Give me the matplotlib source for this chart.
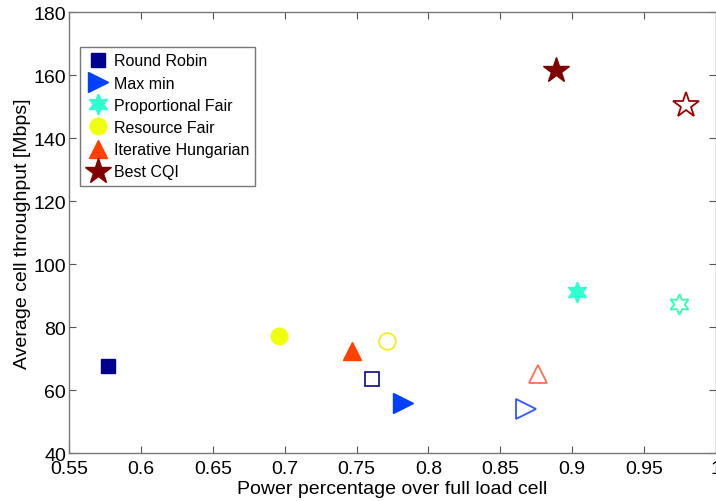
import matplotlib.pyplot as plt
import numpy as np

plt.rcParams['font.family'] = ['Liberation Sans', 'DejaVu Sans']

# scheduler results: (power fraction, throughput) for the two scenarios
schemes = ["Round Robin", "Max min", "Proportional Fair", "Resource Fair",
           "Iterative Hungarian", "Best CQI"]
power_a = [0.577, 0.782, 0.903, 0.696, 0.747, 0.889]
thr_a = [67.6, 55.9, 91.1, 77.2, 72.4, 161.8]
power_b = [0.761, 0.868, 0.974, 0.771, 0.876, 0.979]
thr_b = [63.5, 54.0, 87.3, 75.6, 65.1, 150.5]

colors = ["#00008f", "#0040ff", "#30ffd0", "#f0ff10", "#ff4000", "#800000"]
edge_b = ["#1a1a9a", "#3355ff", "#30ffb0", "#f0f020", "#ff7050", "#a00000"]
markers = ["s", ">", (6, 1, 0), "o", "^", "*"]
sizes = [10, 14, 15, 12, 13, 19]

fig = plt.figure(figsize=(7.16, 5.02), dpi=100)
ax = fig.add_axes([0.0964, 0.0956, 0.9036, 0.878])

for i in range(len(schemes)):
    ax.plot(power_a[i], thr_a[i], linestyle="none", marker=markers[i],
            markersize=sizes[i], color=colors[i], markeredgecolor=colors[i],
            label=schemes[i])
    ax.plot(power_b[i], thr_b[i], linestyle="none", marker=markers[i],
            markersize=sizes[i], markerfacecolor="white",
            markeredgecolor=edge_b[i], markeredgewidth=1.3)

ax.set_xlim(0.55, 1.0)
ax.set_ylim(40, 180)
ax.set_xticks(np.arange(0.55, 1.001, 0.05))
ax.set_xticklabels(["0.55", "0.6", "0.65", "0.7", "0.75", "0.8", "0.85",
                    "0.9", "0.95", "1"])
ax.set_yticks(np.arange(40, 181, 20))
ax.tick_params(direction="in", top=True, right=True, length=5,
               labelsize=14, color="#555555", pad=2)
ax.tick_params(axis="x", pad=5)
for s in ax.spines.values():
    s.set_color("#777777")
    s.set_linewidth(1.0)

ax.set_xlabel("Power percentage over full load cell", fontsize=14, labelpad=2)
ax.set_ylabel("Average cell throughput [Mbps]", fontsize=14, labelpad=2)

leg = ax.legend(loc="upper left", bbox_to_anchor=(0.017, 0.921),
                borderaxespad=0, numpoints=1, fontsize=11.5, fancybox=False,
                handletextpad=0.3, handlelength=1.4, labelspacing=0.45,
                borderpad=0.4)
leg.get_frame().set_edgecolor("#555555")
leg.get_frame().set_linewidth(1.0)

fig.savefig("out.png", dpi=100)
